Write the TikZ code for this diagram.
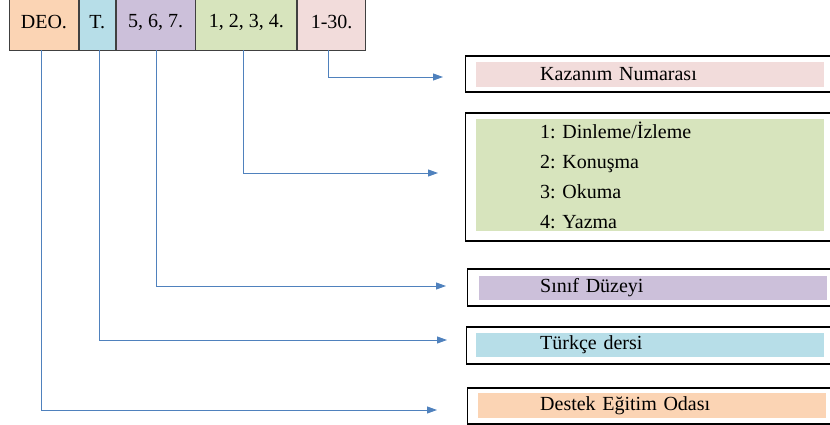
\documentclass[tikz,border=0pt]{standalone}
\usepackage{fontspec}
\setmainfont{Liberation Serif}
\usetikzlibrary{positioning,arrows.meta}

\definecolor{deoC}{HTML}{FBD4B4}
\definecolor{dersC}{HTML}{B7DEE8}
\definecolor{sinifC}{HTML}{CCC0DA}
\definecolor{alanC}{HTML}{D7E4BD}
\definecolor{numC}{HTML}{F2DCDB}
\definecolor{lineC}{HTML}{4F81BD}

\begin{document}
\frenchspacing
\begin{tikzpicture}[
    x = 1pt, y = -1pt,
    code/.style = {draw = black!75, line width = 0.8pt,
      font = \fontsize{20}{23}\selectfont,
      minimum height = 56pt, inner sep = 0pt},
    frame/.style = {draw = black, line width = 1.1pt,
      minimum width = 385pt, anchor = west, inner sep = 0pt},
    meaning/.style = {font = \fontsize{20}{23}\selectfont,
      text width = 348pt, align = left, inner xsep = 0pt,
      inner ysep = 0pt, anchor = west},
    link/.style = {draw = lineC, line width = 0.9pt,
      -{Triangle[length = 10pt, width = 7pt]}},
    ]
    \useasboundingbox (0, 0) rectangle (830, 425);

    % code parts
    \node at (9, 22) [code, anchor = west, fill = deoC,
    minimum width = 69pt, name = deo] {DEO.};
    \node [code, right = 0pt of deo, fill = dersC,
    minimum width = 36pt, name = ders] {T.};
    \node [code, right = 0pt of ders, fill = sinifC,
    minimum width = 79pt, name = sinif] {5, 6, 7.};
    \node [code, right = 0pt of sinif, fill = alanC,
    minimum width = 101pt, name = alan] {1, 2, 3, 4.};
    \node [code, right = 0pt of alan, fill = numC,
    minimum width = 68pt, name = num] {1-30.};

    % frames on the right
    \node at (465, 74) [frame, minimum height = 36pt, name = numF] {};
    \node at (465, 177) [frame, minimum height = 128pt, name = alanF] {};
    \node at (467, 287.5) [frame, minimum height = 37pt, name = sinifF] {};
    \node at (466, 345.5) [frame, minimum height = 37pt, name = dersF] {};
    \node at (467, 406) [frame, minimum height = 36pt, name = deoF] {};

    % meanings
    \node at (476, 74.5) [meaning, fill = numC, minimum height = 25pt,
    name = numT] {\hspace*{64pt}Kazanım Numarası};
    \node at (476, 175) [meaning, fill = alanC, minimum height = 112pt,
    name = alanT] {\hspace*{64pt}1: Dinleme/İzleme\\[7pt]
      \hspace*{64pt}2: Konuşma\\[7pt]
      \hspace*{64pt}3: Okuma\\[7pt]
      \hspace*{64pt}4: Yazma};
    \node at (479, 288) [meaning, fill = sinifC, minimum height = 24pt,
    name = sinifT] {\hspace*{61pt}Sınıf Düzeyi};
    \node at (476, 345) [meaning, fill = dersC, minimum height = 24pt,
    name = dersT] {\hspace*{64pt}Türkçe dersi};
    \node at (478, 405.5) [meaning, fill = deoC, minimum height = 25pt,
    name = deoT] {\hspace*{62pt}Destek Eğitim Odası};

    % connectors
    \draw [link, shorten >= 22pt] ([xshift = -3pt] num.south)
    |- ([yshift = -3pt] numF.west);
    \draw [link, shorten >= 27pt] ([xshift = -2.5pt] alan.south)
    |- ([yshift = 4pt] alanF.west);
    \draw [link, shorten >= 21pt] ([xshift = 0.5pt] sinif.south)
    |- ([yshift = 1.5pt] sinifF.west);
    \draw [link, shorten >= 19pt] ([xshift = 2pt] ders.south)
    |- ([yshift = 5.5pt] dersF.west);
    \draw [link, shorten >= 30pt] ([xshift = -2.5pt] deo.south)
    |- ([yshift = -4pt] deoF.west);

  \end{tikzpicture}
\end{document}
